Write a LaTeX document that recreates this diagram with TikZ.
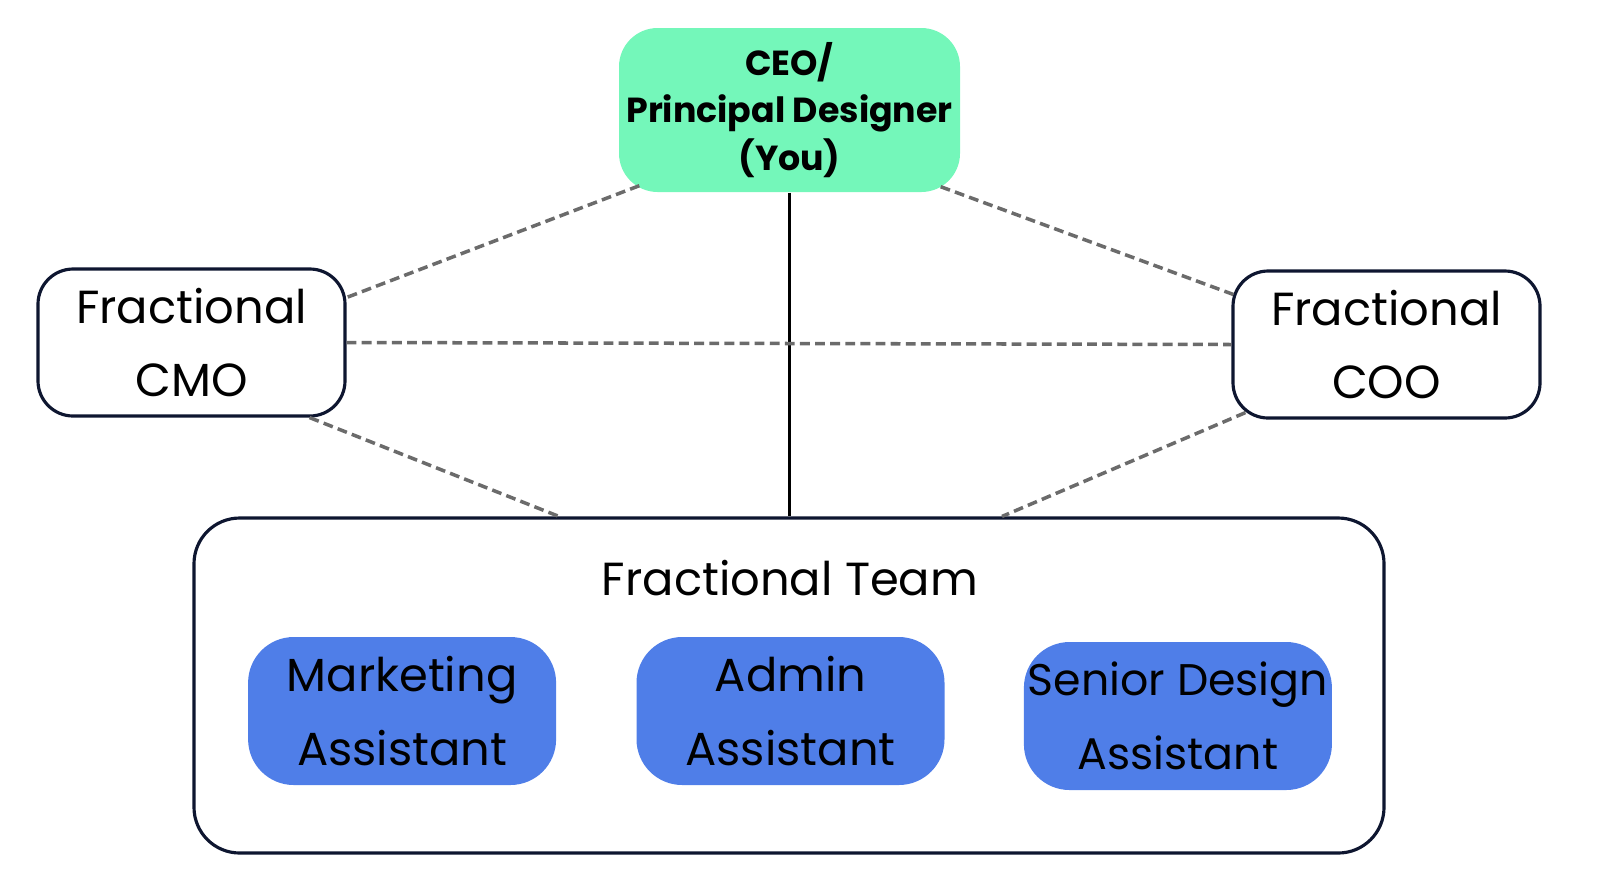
\documentclass[tikz,border=0pt]{standalone}
\usepackage{fontspec}
\setmainfont{Poppins}
\usetikzlibrary{positioning}
\definecolor{mint}{HTML}{74F7BA}
\definecolor{royal}{HTML}{4F7EE8}
\definecolor{ink}{HTML}{0E1630}
\definecolor{linkgray}{HTML}{6B6B6B}

\begin{document}
\begin{tikzpicture}[
    node distance=7.9mm,
    box/.style={rounded corners=10pt,minimum width=3.07cm,minimum height=1.47cm,align=center,inner sep=0pt},
    ceobox/.style={box,fill=mint,rounded corners=11pt,minimum width=3.41cm,minimum height=1.64cm,font=\bfseries\fontsize{9.9}{13.6}\selectfont},
    fracbox/.style={box,draw=ink,line width=0.9pt,font=\fontsize{13.2}{20.9}\selectfont},
    teambox/.style={draw=ink,line width=0.9pt,rounded corners=13pt,minimum width=11.9cm,minimum height=3.35cm},
    helper/.style={box,fill=royal,rounded corners=13pt,minimum width=3.08cm,minimum height=1.48cm,font=\fontsize{13.2}{20.9}\selectfont},
    link/.style={draw=linkgray,line width=1pt,dash pattern=on 2.8pt off 1.5pt},
    mainlink/.style={draw=black,line width=0.9pt}
  ]
    \useasboundingbox (0,0) rectangle (16,8.79);

    \node[ceobox] (ceo) at (7.895,7.69) {CEO/\\Principal Designer\\(You)};
    \node[fracbox] (cmo) at (1.915,5.365) {Fractional\\CMO};
    \node[fracbox] (coo) at (13.865,5.345) {Fractional\\COO};

    \node[teambox] (team) at (7.89,1.935) {};
    \node[font=\fontsize{13.2}{20.9}\selectfont] (teamlabel) at (7.9,3.01) {Fractional Team};

    \node[helper] (admin) at (7.905,1.68) {Admin\\Assistant};
    \node[helper,left=of admin] (mkt) {Marketing\\Assistant};
    \node[helper,right=7.8mm of admin,yshift=-0.5mm,font=\fontsize{12.6}{20.9}\selectfont] (senior) {Senior Design\\Assistant};

    \draw[mainlink] (ceo) -- (ceo |- team.north);
    \draw[link] ([shift={(0.21,0.07)}]ceo.south west) -- ([yshift=4.5mm]cmo.east);
    \draw[link] ([shift={(-0.2,0.06)}]ceo.south east) -- ([shift={(0.02,5mm)}]coo.west);
    \draw[link] (cmo.east) -- (coo.west);
    \draw[link] ([xshift=-3.7mm]cmo.south east) -- ([xshift=-23mm]team.north);
    \draw[link] ([shift={(0.14,0.07)}]coo.south west) -- ([xshift=21.3mm]team.north);
  \end{tikzpicture}
\end{document}
